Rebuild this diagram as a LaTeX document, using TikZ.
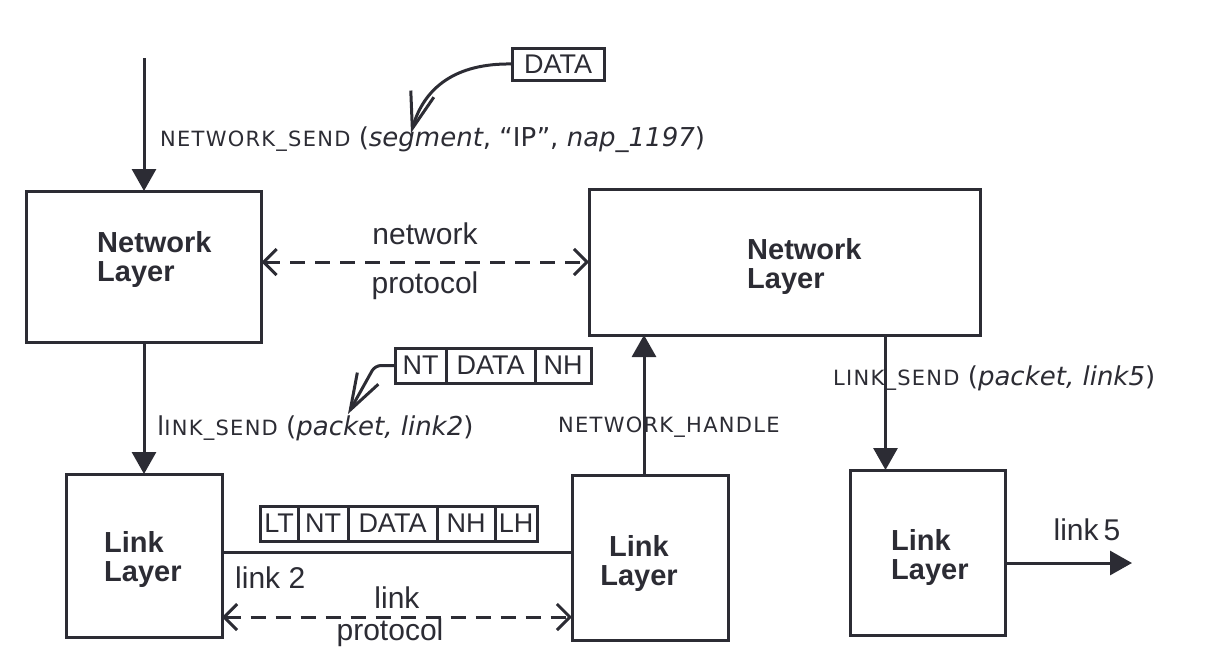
\documentclass[tikz,border=0pt]{standalone}
\usepackage{fontspec}
\setmainfont{Liberation Sans}
\newfontfamily\callfont{DejaVu Sans}
\newfontfamily\callcaps[LetterSpace=6]{DejaVu Sans}
\usetikzlibrary{arrows.meta,positioning}
\definecolor{ink}{RGB}{44,44,52}
\newcommand{\callname}[1]{{\callcaps\fontsize{21}{21}\selectfont #1}}
\newcommand{\calltext}{\callfont\fontsize{26}{28}\selectfont}

\tikzset{
  layerbox/.style={draw=ink,line width=3pt,outer sep=0pt,inner sep=0pt},
  layertxt/.style={text=ink,font=\bfseries\fontsize{29}{29}\selectfont,align=left,inner sep=0pt},
  cell/.style={draw=ink,line width=3pt,outer sep=0pt,inner xsep=0pt,minimum height=35pt,text=ink,font=\fontsize{27}{27}\selectfont},
  flow/.style={draw=ink,line width=3pt,-{Triangle[length=22pt,width=24pt]}},
  proto/.style={draw=ink,line width=3pt,dash pattern=on 15pt off 10pt,{Straight Barb[length=13pt,width=26pt]}-{Straight Barb[length=13pt,width=26pt]}},
  hint/.style={draw=ink,line width=3pt,-{Straight Barb[length=36pt,width=24pt]}},
  lbl/.style={text=ink,font=\fontsize{30}{30}\selectfont,inner sep=0pt,anchor=base},
  call/.style={text=ink,font=\calltext,inner sep=0pt,anchor=west}
}

\begin{document}
\begin{tikzpicture}[x=1pt,y=-1pt]
\useasboundingbox (0,0) rectangle (1220,670);
% layer boxes
\node[layerbox,minimum width=235pt,minimum height=151pt] (netL) at (144,266.5) {};
\node[layerbox,minimum width=391pt,minimum height=146pt] (netR) at (784.5,262) {};
\node[layerbox,minimum width=156pt,minimum height=163pt] (linkL) at (144,555.5) {};
\node[layerbox,minimum width=156pt,minimum height=165pt] (linkM) at (650,557.5) {};
\node[layerbox,minimum width=155pt,minimum height=165pt] (linkR) at (927.5,552.5) {};
\node[layertxt,anchor=west] (netLtxt) at (97,259) {Network\\Layer};
\node[layertxt,anchor=west] (netRtxt) at (747,266) {Network\\Layer};
\node[layertxt,anchor=west] (linkLtxt) at (104,559) {Link\\Layer};
\node[layertxt,align=center] (linkMtxt) at (639,563) {Link\\Layer};
\node[layertxt,anchor=west] (linkRtxt) at (891,557) {Link\\Layer};
% packets
\node[cell,minimum width=92pt,minimum height=32pt] (dataTop) at (558,64) {DATA};
\node[cell,minimum width=51pt,anchor=west] (hdrNT) at (395,365.5) {NT};
\node[cell,minimum width=89pt,right=0pt of hdrNT] (hdrData) {DATA};
\node[cell,minimum width=56pt,right=0pt of hdrData] (hdrNH) {NH};
\node[cell,minimum width=38pt,anchor=west] (frLT) at (260,523.5) {LT};
\node[cell,minimum width=50pt,right=0pt of frLT] (frNT) {NT};
\node[cell,minimum width=89pt,right=0pt of frNT] (frData) {DATA};
\node[cell,minimum width=58pt,right=0pt of frData] (frNH) {NH};
\node[cell,minimum width=42pt,right=0pt of frNH] (frLH) {LH};
% labels
\node[lbl] (netProtoA) at (425,244) {network};
\node[lbl] (netProtoB) at (425,293) {protocol};
\node[lbl,anchor=base west] (link2) at (235,588) {link 2};
\node[lbl] (linkProtoA) at (397,608) {link};
\node[lbl] (linkProtoB) at (390,640) {protocol};
\node[lbl] (link5) at (1087,540) {link\,5};
\node[call] (sendNet) at (160,140) {\callname{NETWORK\_SEND} (\textit{segment}, “IP”, \textit{nap\_1197})};
\node[call] (sendLinkL) at (157,428) {l\callname{INK\_SEND} (\textit{packet, link2})};
\node[call] (handleNet) at (558,427) {\callname{NETWORK\_HANDLE}};
\node[call] (sendLinkR) at (833,378) {\callname{LINK\_SEND} (\textit{packet, link5})};
% free ends
\coordinate (inNet) at (144,58);
\coordinate (tipSeg) at (411,133);
\coordinate (tipPkt) at (348,414);
\coordinate (wire2) at (400,552);
\coordinate (proto2) at (400,617);
\coordinate (out5) at (1132,563);
% connectors
\draw[flow] (inNet) -- (netL.north);
\draw[flow] (netL.south) -- (linkL.north);
\draw[flow] ([xshift=-6pt]linkM.north) -- ([xshift=-6pt]linkM.north |- netR.south);
\draw[flow] ([xshift=-42pt]linkR.north |- netR.south) -- ([xshift=-42pt]linkR.north);
\draw[flow] (linkR.east |- out5) -- (out5);
\draw[draw=ink,line width=3pt] (linkL.east |- wire2) -- (linkM.west |- wire2);
\draw[proto] (netL.east |- netR.west) -- (netR.west);
\draw[proto] (linkL.east |- proto2) -- (linkM.west |- proto2);
\draw[hint] (dataTop.west) .. controls (455,63) and (424,88) .. (tipSeg);
\draw[hint,rounded corners=6pt] (hdrNT.west) -- ++(-20,0) -- (tipPkt);
\end{tikzpicture}
\end{document}
